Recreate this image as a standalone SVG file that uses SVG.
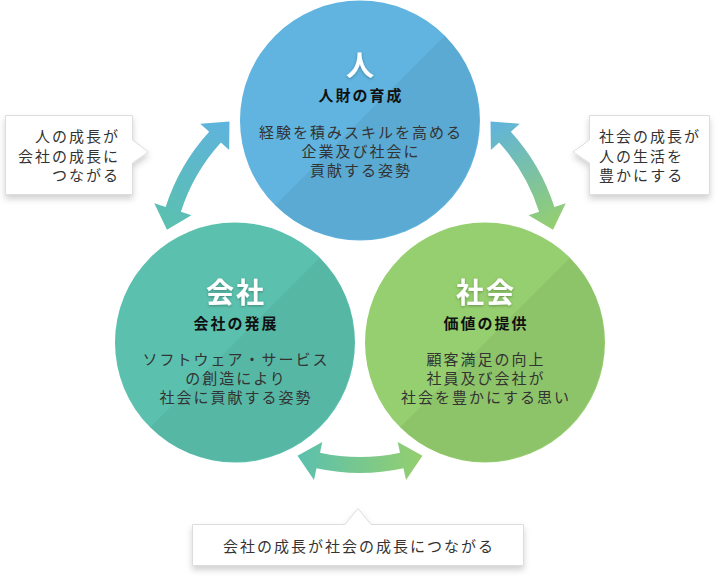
<svg xmlns="http://www.w3.org/2000/svg" xmlns:xlink="http://www.w3.org/1999/xlink" width="721" height="576" viewBox="0 0 721 576">
  <style>
    text { font-family: "Noto Sans CJK JP", "Noto Sans", sans-serif; }
    .title { font-size: 28px; font-weight: 700; fill: #ffffff; text-anchor: middle; letter-spacing: 2px; }
    .sub { font-size: 15px; font-weight: 700; fill: #111111; text-anchor: middle; letter-spacing: 2px; }
    .body { font-size: 15px; fill: #333333; text-anchor: middle; letter-spacing: 2px; }
    .note { font-size: 15px; fill: #333333; letter-spacing: 2px; }
    .shade { fill: #000000; fill-opacity: 0.05; }
    .box { fill: #ffffff; stroke: #dddddd; stroke-width: 1; }
  </style>
  <defs>
    <filter id="tshadow" x="-20%" y="-20%" width="140%" height="140%">
      <feDropShadow dx="0" dy="1" stdDeviation="1.5" flood-color="#000000" flood-opacity="0.3"/>
    </filter>
    <filter id="bshadow" x="-10%" y="-10%" width="120%" height="140%">
      <feDropShadow dx="0" dy="4" stdDeviation="3" flood-color="#000000" flood-opacity="0.18"/>
    </filter>
    <linearGradient id="gB" x1="0" y1="0" x2="1" y2="0">
      <stop offset="0" stop-color="#5BC0AE"/>
      <stop offset="1" stop-color="#95CF6E"/>
    </linearGradient>
    <linearGradient id="gL" x1="0" y1="0" x2="1" y2="0">
      <stop offset="0" stop-color="#5FB3DE"/>
      <stop offset="1" stop-color="#5BC0AE"/>
    </linearGradient>
    <linearGradient id="gR" x1="0" y1="0" x2="1" y2="0">
      <stop offset="0" stop-color="#95CF6E"/>
      <stop offset="1" stop-color="#5FB3DE"/>
    </linearGradient>
    <path id="arrow" d="M-40,183.7 A188,188 0 0 0 40,183.7 L37.7,172.9 L62.5,186.8 L46,211 L43.5,199.3 A204,204 0 0 1 -43.5,199.3 L-46,211 L-62.5,186.8 L-37.7,172.9 Z"/>
  </defs>

  <g id="connectors">
    <use xlink:href="#arrow" href="#arrow" fill="url(#gL)" transform="translate(360,269) rotate(120)"/>
    <use xlink:href="#arrow" href="#arrow" fill="url(#gR)" transform="translate(360,269) rotate(-120)"/>
    <use xlink:href="#arrow" href="#arrow" fill="url(#gB)" transform="translate(360,269)"/>
  </g>

  <g id="node-hito">
    <circle cx="360" cy="120.5" r="120" fill="#60B4DF"/>
    <path class="shade" d="M275.15,205.35 A120,120 0 0 0 444.85,35.65 Z"/>
    <text class="title" x="361" y="76" filter="url(#tshadow)">人</text>
    <text class="sub" x="361" y="101">人財の育成</text>
    <text class="body" x="361" y="138">経験を積みスキルを高める</text>
    <text class="body" x="361" y="157">企業及び社会に</text>
    <text class="body" x="361" y="176">貢献する姿勢</text>
  </g>

  <g id="node-kaisha">
    <circle cx="235" cy="342.5" r="120" fill="#5BC1AE"/>
    <path class="shade" d="M150.15,427.35 A120,120 0 0 0 319.85,257.65 Z"/>
    <text class="title" x="236" y="303" filter="url(#tshadow)">会社</text>
    <text class="sub" x="236" y="329">会社の発展</text>
    <text class="body" x="236" y="365">ソフトウェア・サービス</text>
    <text class="body" x="236" y="384">の創造により</text>
    <text class="body" x="236" y="403">社会に貢献する姿勢</text>
  </g>

  <g id="node-shakai">
    <circle cx="485" cy="342.5" r="120" fill="#96CF6F"/>
    <path class="shade" d="M400.15,427.35 A120,120 0 0 0 569.85,257.65 Z"/>
    <text class="title" x="486" y="303" filter="url(#tshadow)">社会</text>
    <text class="sub" x="486" y="329">価値の提供</text>
    <text class="body" x="486" y="365">顧客満足の向上</text>
    <text class="body" x="486" y="384">社員及び会社が</text>
    <text class="body" x="486" y="403">社会を豊かにする思い</text>
  </g>

  <g id="callout-left">
    <path class="box" filter="url(#bshadow)" d="M5.5,115.5 H132.5 V140 L148.5,152 L132.5,163 V194.5 H5.5 Z"/>
    <text class="note" x="120" y="142" text-anchor="end">人の成長が</text>
    <text class="note" x="120" y="162" text-anchor="end">会社の成長に</text>
    <text class="note" x="120" y="181" text-anchor="end">つながる</text>
  </g>

  <g id="callout-right">
    <path class="box" filter="url(#bshadow)" d="M589.5,115.5 H709.5 V194.5 H589.5 V163 L573,152 L589.5,140 Z"/>
    <text class="note" x="599" y="142">社会の成長が</text>
    <text class="note" x="599" y="162">人の生活を</text>
    <text class="note" x="599" y="181">豊かにする</text>
  </g>

  <g id="callout-bottom">
    <path class="box" filter="url(#bshadow)" d="M192.5,524.5 H345 L358,508.5 L371,524.5 H523.5 V565.5 H192.5 Z"/>
    <text class="note" x="359" y="552" text-anchor="middle">会社の成長が社会の成長につながる</text>
  </g>
</svg>
